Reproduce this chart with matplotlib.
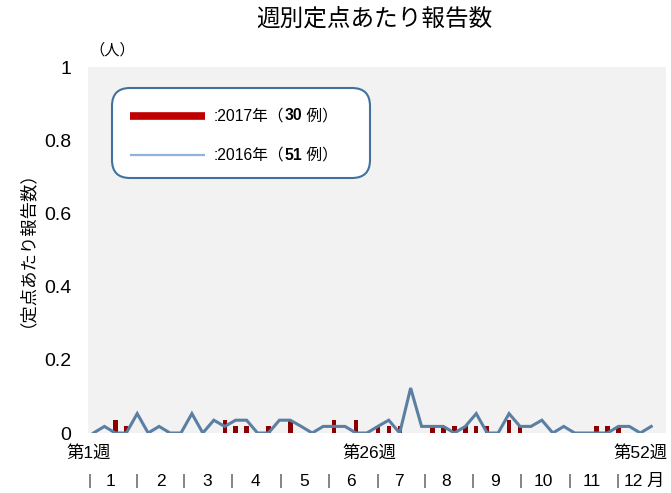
import matplotlib
matplotlib.use("Agg")
import matplotlib.pyplot as plt
from matplotlib.patches import FancyBboxPatch
from matplotlib.lines import Line2D
from matplotlib.text import Annotation
from matplotlib.transforms import IdentityTransform

plt.rcParams['font.family'] = ['Liberation Sans', 'Noto Sans CJK JP', 'DejaVu Sans']

# ---------------- data ----------------
weeks = list(range(1, 53))
rate_2016 = [0, 0.018, 0, 0, 0.053, 0, 0.018, 0, 0, 0.053, 0, 0.035, 0.018,
             0.035, 0.035, 0, 0, 0.035, 0.035, 0.018, 0, 0.018, 0.018, 0.018, 0, 0,
             0.018, 0.035, 0, 0.123, 0.018, 0.018, 0.018, 0, 0.018, 0.053, 0, 0, 0.053,
             0.018, 0.018, 0.035, 0, 0.018, 0, 0, 0, 0, 0.018, 0.018, 0, 0.018]
rate_2017 = [0, 0, 0.035, 0.018, 0, 0, 0, 0, 0, 0, 0, 0, 0.035,
             0.018, 0.018, 0, 0.018, 0, 0.035, 0, 0, 0, 0.035, 0, 0.035, 0,
             0.018, 0.018, 0.018, 0, 0, 0.018, 0.018, 0.018, 0.018, 0.018, 0.018, 0, 0.035,
             0.018, 0, 0, 0, 0, 0, 0, 0.018, 0.018, 0.018, 0, 0, 0]
cases_2017 = "30"
cases_2016 = "51"
yticks = [0, 0.2, 0.4, 0.6, 0.8, 1]
ytick_labels = ["0", "0.2", "0.4", "0.6", "0.8", "1"]
week_labels = ["第1週", "第26週", "第52週"]
month_labels = ["1", "2", "3", "4", "5", "6", "7", "8", "9", "10", "11", "12"]
title = "週別定点あたり報告数"
ylabel = "（定点あたり報告数）"
unit = "（人）"

# ---------------- figure ----------------
W, H = 671, 493
fig = plt.figure(figsize=(W / 100, H / 100), dpi=100)
ax = fig.add_axes([88 / W, 1 - 433 / H, (666 - 88) / W, (433 - 67) / H])
ax.set_facecolor('#f2f2f2')
for s in ax.spines.values():
    s.set_visible(False)

ax.bar(weeks, rate_2017, width=0.4, color='#8b0000', zorder=2)
ax.plot(weeks, rate_2016, color='#5b7fa3', lw=2.2, zorder=3, solid_joinstyle='miter')

ax.set_xlim(0.5, 53.35)
ax.set_ylim(0, 1)
ax.set_yticks(yticks)
ax.set_yticklabels(ytick_labels, fontsize=14)
ax.set_xticks([])
ax.tick_params(axis='y', length=0, pad=12)

def fx(px):
    return px / W

def fy(py):
    return 1 - py / H

fig.text(fx(374), fy(19), title, fontsize=17, ha='center', va='center')
fig.text(fx(112), fy(50), unit, fontsize=11, ha='center', va='center')
fig.text(fx(18), fy(240), ylabel, fontsize=12.5, rotation=90, ha='center', va='center')

for lab, px in zip(week_labels, [89, 369, 641]):
    fig.text(fx(px), fy(453), lab, fontsize=12.5, ha='center', va='center')

sep_px = [90, 137, 184, 232, 281, 329, 378, 425, 473, 521, 570, 618]
num_px = [111, 161, 207, 255, 304, 351, 399, 446, 495, 543, 592, 633]
for px in sep_px:
    fig.text(fx(px), fy(481), "|", fontsize=11, ha='center', va='center', color='#404040')
for lab, px in zip(month_labels, num_px):
    fig.text(fx(px), fy(481), lab, fontsize=12.5, ha='center', va='center')
fig.text(fx(655), fy(481), "月", fontsize=12.5, ha='center', va='center')

# ---------------- legend ----------------
box = FancyBboxPatch((112, H - 178), 258, 90,
                     boxstyle="round,pad=0,rounding_size=18",
                     transform=IdentityTransform(), facecolor='white',
                     edgecolor='#41719c', lw=1.5, zorder=5)
fig.patches.append(box)
fig.lines.append(Line2D([130, 205], [H - 116, H - 116], transform=IdentityTransform(),
                        color='#c00000', lw=5.5, solid_capstyle='butt', zorder=6))
fig.lines.append(Line2D([130, 205], [H - 155, H - 155], transform=IdentityTransform(),
                        color='#8fb4d9', lw=1.6, solid_capstyle='butt', zorder=6))

def legend_text(py, year, n):
    t1 = fig.text(fx(214), fy(py), ":" + year + "年（", fontsize=11.3, ha='left',
                  va='center', zorder=7)
    t2 = Annotation(n, xy=(1, 0), xycoords=t1, ha='left', va='bottom', fontsize=11.3,
                    fontweight='bold', annotation_clip=False, zorder=7)
    fig.add_artist(t2)
    t3 = Annotation(" 例）", xy=(1, 0), xycoords=t2, ha='left', va='bottom', fontsize=11.3,
                    annotation_clip=False, zorder=7)
    fig.add_artist(t3)

legend_text(116, "2017", cases_2017)
legend_text(155, "2016", cases_2016)

fig.savefig("out.png", dpi=100)
